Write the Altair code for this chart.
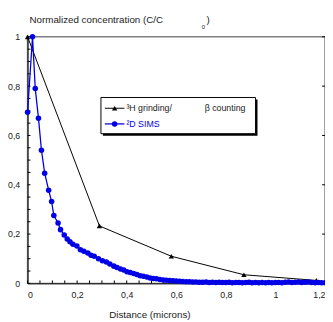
import altair as alt
import pandas as pd

# ---- data ----
h3_x = [0.0, 0.29, 0.58, 0.873, 1.165]
h3_y = [1.0, 0.233, 0.110, 0.035, 0.012]

d2_x = [0.0, 0.020, 0.031, 0.044, 0.056, 0.069, 0.085, 0.097, 0.106, 0.123,
        0.133, 0.148, 0.160, 0.171, 0.183, 0.199, 0.213, 0.227, 0.243, 0.256,
        0.269, 0.286, 0.302, 0.318, 0.332, 0.348, 0.361, 0.375, 0.388, 0.401,
        0.414, 0.428, 0.441, 0.454, 0.467, 0.481, 0.494, 0.507, 0.520, 0.534,
        0.547, 0.560, 0.573, 0.587, 0.600, 0.613, 0.626, 0.640, 0.653, 0.666,
        0.679, 0.693, 0.706, 0.720, 0.733, 0.746, 0.760, 0.773, 0.786, 0.800,
        0.813, 0.826, 0.840, 0.853, 0.866, 0.880, 0.893, 0.906, 0.920, 0.933,
        0.946, 0.960, 0.973, 0.986, 1.000, 1.013, 1.026, 1.040, 1.053, 1.066,
        1.080, 1.093, 1.106, 1.120, 1.133, 1.146, 1.160, 1.173, 1.186, 1.200]
d2_y = [0.694, 1.0, 0.790, 0.670, 0.540, 0.447, 0.378, 0.332, 0.275, 0.245,
        0.218, 0.196, 0.180, 0.169, 0.159, 0.152, 0.136, 0.130, 0.123, 0.114,
        0.110, 0.100, 0.092, 0.087, 0.079, 0.070, 0.064, 0.058, 0.054, 0.047,
        0.044, 0.040, 0.036, 0.031, 0.029, 0.026, 0.022, 0.020, 0.019, 0.016,
        0.014, 0.013, 0.012, 0.011, 0.010, 0.009, 0.008, 0.007, 0.007, 0.006,
        0.006, 0.005, 0.005, 0.006, 0.004, 0.005, 0.004, 0.005, 0.004, 0.004,
        0.005, 0.003, 0.004, 0.004, 0.003, 0.004, 0.005, 0.003, 0.004, 0.003,
        0.004, 0.003, 0.004, 0.003, 0.004, 0.004, 0.003, 0.005, 0.006, 0.004,
        0.005, 0.006, 0.004, 0.005, 0.006, 0.004, 0.003, 0.004, 0.003, 0.003]

x_labels = [0, 0.2, 0.4, 0.6, 0.8, 1, 1.2]
y_labels = [0, 0.2, 0.4, 0.6, 0.8, 1]
minor_x = [0, 0.05, 0.1, 0.15, 0.2, 0.25, 0.3, 0.35, 0.4, 0.45, 0.5, 0.55, 0.6,
           0.65, 0.7, 0.75, 0.8, 0.85, 0.9, 0.95, 1.0, 1.05, 1.1, 1.15, 1.2]
minor_y = [0, 0.05, 0.1, 0.15, 0.2, 0.25, 0.3, 0.35, 0.4, 0.45, 0.5, 0.55, 0.6,
           0.65, 0.7, 0.75, 0.8, 0.85, 0.9, 0.95, 1.0]

W, H = 304, 252
FONT = "Liberation Sans"
BLUE = "#0000e6"

xs = alt.Scale(domain=[0, 1.2], nice=False, zero=False)
ys = alt.Scale(domain=[0, 1], nice=False, zero=False)
lab = "replace(format(datum.value, '.1~f'), '.', ',')"

h3 = pd.DataFrame({"x": h3_x, "y": h3_y})
d2 = pd.DataFrame({"x": d2_x, "y": d2_y})

xaxis = alt.Axis(values=x_labels, labelExpr=lab, ticks=False, grid=False, title=None,
                 domainColor="black", labelFont=FONT, labelFontSize=9,
                 labelColor="#222", labelPadding=7)
yaxis = alt.Axis(values=y_labels, labelExpr=lab, ticks=False, grid=False, title=None,
                 domainColor="black", labelFont=FONT, labelFontSize=9,
                 labelColor="#222", labelPadding=8)

d2_layer = alt.Chart(d2).mark_line(
    color=BLUE, strokeWidth=1.3,
    point=alt.OverlayMarkDef(filled=True, color=BLUE, size=32, opacity=1)
).encode(x=alt.X("x:Q", scale=xs, axis=xaxis), y=alt.Y("y:Q", scale=ys, axis=yaxis),
         order="x:Q")

h3_layer = alt.Chart(h3).mark_line(
    color="black", strokeWidth=1,
    point=alt.OverlayMarkDef(filled=True, color="black", shape="triangle-up", size=30, opacity=1)
).encode(x=alt.X("x:Q", scale=xs), y=alt.Y("y:Q", scale=ys), order="x:Q")

# inward ticks
mx = pd.DataFrame({"v": minor_x})
my = pd.DataFrame({"v": minor_y})
myr = pd.DataFrame({"v": y_labels})
tick_left = alt.Chart(my).mark_rule(color="black", strokeWidth=1).encode(
    y=alt.Y("v:Q", scale=ys), x=alt.value(0), x2=alt.value(3))
tick_right = alt.Chart(myr).mark_rule(color="black", strokeWidth=1).encode(
    y=alt.Y("v:Q", scale=ys), x=alt.value(W - 3), x2=alt.value(W))
tick_bottom = alt.Chart(mx).mark_rule(color="black", strokeWidth=1).encode(
    x=alt.X("v:Q", scale=xs), y=alt.value(H - 3), y2=alt.value(H))

one = pd.DataFrame({"a": [0]})

def txt(s, x, y, size=10, color="#222", align="left", baseline="middle"):
    return alt.Chart(one).mark_text(
        text=s, font=FONT, fontSize=size, color=color, align=align, baseline=baseline
    ).encode(x=alt.value(x), y=alt.value(y))

ytitle = txt("Normalized concentration (C/C", 2, -17)
ysub = txt("0", 178, -10, size=6)
yclose = txt(")", 183, -17)
xtitle = txt("Distance (microns)", 125, 284, align="center")

# legend
shadow = alt.Chart(one).mark_rect(color="black").encode(
    x=alt.value(77), x2=alt.value(235), y=alt.value(64), y2=alt.value(101))
box = alt.Chart(one).mark_rect(fill="white", stroke="black", strokeWidth=1).encode(
    x=alt.value(75), x2=alt.value(233), y=alt.value(62), y2=alt.value(99))
l1 = alt.Chart(one).mark_rule(color="black", strokeWidth=1).encode(
    x=alt.value(79), x2=alt.value(99), y=alt.value(73))
m1 = alt.Chart(one).mark_point(shape="triangle-up", filled=True, color="black", size=30, opacity=1).encode(
    x=alt.value(89), y=alt.value(73))
l2 = alt.Chart(one).mark_rule(color=BLUE, strokeWidth=1.3).encode(
    x=alt.value(79), x2=alt.value(99), y=alt.value(89))
m2 = alt.Chart(one).mark_point(filled=True, color=BLUE, size=32, opacity=1).encode(
    x=alt.value(89), y=alt.value(89))
t1a = txt("\u00b3H grinding/", 101, 73, size=9)
t1b = txt("\u03b2 counting", 181, 73, size=9)
t2 = txt("\u00b2D SIMS", 101, 89, size=9, color=BLUE)

chart = alt.layer(
    tick_left, tick_right, tick_bottom, h3_layer, d2_layer,
    shadow, box, l1, m1, l2, m2, t1a, t1b, t2,
    ytitle, ysub, yclose, xtitle
).properties(
    width=W, height=H,
    autosize=alt.AutoSizeParams(type="none"),
    padding={"left": 20, "top": 26, "right": 0, "bottom": 36},
).configure_view(stroke="#808080", strokeWidth=1.5)

chart.save("out.html", embed_options={"renderer": "svg", "actions": False})
